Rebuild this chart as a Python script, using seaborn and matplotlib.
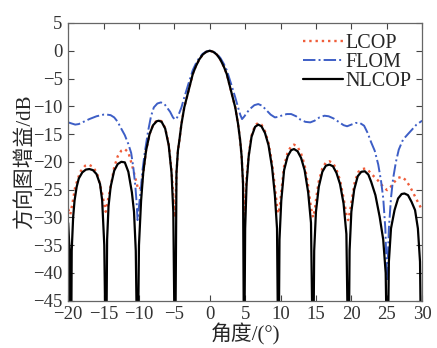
import numpy as np
import pandas as pd
import matplotlib
matplotlib.use("Agg")
import matplotlib.pyplot as plt
import seaborn as sns

# ---------------- data ----------------
# NLCOP (solid black)
nlcop_deg = [-20.0, -19.8, -19.6, -19.5, -19.3, -19.1, -18.8, -18.5, -18.0, -17.5, -17.0,
             -16.5, -16.0, -15.5, -15.2, -14.9, -14.65, -14.5, -14.3, -14.0, -13.5, -13.0,
             -12.5, -12.0, -11.5, -11.0, -10.7, -10.45, -10.2, -10.0, -9.7, -9.4, -9.0,
             -8.5, -8.0, -7.5, -7.2, -6.8, -6.3, -5.8, -5.4, -5.15, -4.9, -4.7, -4.5,
             -4.3, -4.0, -3.6, -3.0, -2.4, -2.0, -1.5, -1.0, -0.5, 0.0, 0.5, 1.0, 1.5,
             2.0, 2.4, 3.0, 3.6, 4.0, 4.3, 4.5, 4.7, 4.85, 5.0, 5.2, 5.5, 5.9, 6.4, 6.85,
             7.3, 7.8, 8.3, 8.8, 9.2, 9.5, 9.7, 9.85, 10.1, 10.5, 11.0, 11.5, 11.9, 12.4,
             12.9, 13.4, 13.9, 14.3, 14.6, 14.75, 15.0, 15.4, 15.9, 16.4, 16.9, 17.4,
             17.9, 18.4, 18.9, 19.3, 19.6, 19.75, 20.0, 20.4, 20.9, 21.4, 21.9, 22.4,
             22.8, 23.4, 24.0, 24.5, 24.85, 25.1, 25.3, 25.6, 26.1, 26.6, 27.1, 27.5,
             28.0, 28.5, 29.0, 29.4, 29.7, 29.9, 30.0]
nlcop_db = [-31, -36, -60, -36, -30, -27, -24.5, -23, -21.9, -21.4, -21.3,
            -21.5, -22.2, -24, -26.9, -35, -60, -34, -28, -24.5, -21.6, -20.4,
            -20.0, -20.1, -21.8, -25.5, -29, -36, -60, -35, -27, -22, -18,
            -15, -13.4, -12.7, -12.6, -12.8, -14, -17, -22, -29, -60, -22, -18,
            -16.2, -13.2, -10.2, -7.2, -4.2, -2.9, -1.6, -0.7, -0.2, 0.0, -0.2, -0.7, -1.6,
            -2.9, -4.2, -7.2, -10.2, -13.2, -16.2, -19, -24, -60, -32, -24, -19, -15.5, -13.7, -13.3,
            -13.6, -14.8, -17, -21, -26, -32, -60, -34, -27, -21.5, -19, -17.9, -17.7, -18.1,
            -19.3, -21.5, -25.5, -31, -60, -36, -29, -24.5, -21.8, -20.7, -20.5, -20.8,
            -22, -24, -27.5, -33, -60, -36, -29, -25, -22.6, -21.8, -21.7, -22.3,
            -23.6, -26, -29.9, -34, -40, -60, -38, -32, -28.7, -26.6, -25.8, -25.7,
            -26, -27.2, -28.7, -32, -38, -60, -50]

# LCOP (red dotted)
lcop_deg = [-20.0, -19.7, -19.4, -19.0, -18.3, -17.6, -17.1, -16.5, -15.9, -15.2, -14.7,
            -14.4, -14.0, -13.5, -13.0, -12.5, -12.0, -11.5, -11.0, -10.6, -10.2, -9.9,
            -9.6, -9.3, -9.0, -8.5, -8.0, -7.5, -7.2, -6.8, -6.3, -5.8, -5.4, -5.1, -4.9,
            -4.7, -4.5, -4.3, -4.0, -3.6, -3.0, -2.4, -2.0, -1.5, -1.0, -0.5, 0.0, 0.5, 1.0,
            1.5, 2.0, 2.4, 3.0, 3.6, 4.0, 4.3, 4.5, 4.7, 4.85, 5.0, 5.2, 5.5, 5.9, 6.4, 6.85,
            7.3, 7.8, 8.3, 8.8, 9.2, 9.5, 9.7, 9.9, 10.1, 10.5, 11.0, 11.5, 11.9, 12.4, 12.9,
            13.4, 13.9, 14.3, 14.6, 14.85, 15.1, 15.4, 15.9, 16.4, 16.9, 17.4, 17.9, 18.4,
            18.9, 19.3, 19.55, 19.8, 20.1, 20.5, 21.0, 21.5, 22.0, 22.5, 23.0, 23.5, 24.0,
            24.5, 25.05, 25.5, 26.1, 26.6, 27.1, 27.7, 28.3, 28.9, 29.5, 30.0]
lcop_db = [-28.5, -29.5, -27.5, -24.5, -21.8, -20.7, -20.5, -20.9, -22.1, -25.7, -29.0,
           -27, -24.5, -21, -19, -18, -17.7, -18.3, -20.5, -22.5, -24.5, -25,
           -24, -21, -18, -15, -13.3, -12.6, -12.5, -12.7, -13.9, -16.8, -21.5, -27, -30,
           -22, -18, -16.2, -13.2, -10.2, -7.2, -4.2, -2.9, -1.6, -0.7, -0.2, 0.0, -0.2, -0.7,
           -1.6, -2.9, -4.2, -7.2, -10.2, -13.2, -16.2, -19, -23.5, -29.5, -27, -23, -18.7, -15.3, -13.4, -13.0,
           -13.3, -14.5, -16.6, -20.3, -24.5, -28, -29.3, -28, -25.5, -20.8, -18.3, -17.2, -16.9, -17.3, -18.5,
           -20.6, -24.3, -28.3, -30, -28.5, -26, -23.5, -21.2, -20.1, -19.9, -20.2, -21.4, -23.3,
           -26.5, -29.5, -30.5, -29, -26.5, -23.5, -21.8, -21.3, -21.2, -21.7, -22.4, -23.0, -23.7,
           -24.5, -25.1, -24.6, -23.6, -22.9, -22.7, -23.3, -24.5, -26, -27.5, -28.7]

# FLOM (blue dash-dot)
flom_deg = [-20.0, -19.5, -19.0, -18.5, -18.0, -17.0, -16.0, -15.0, -14.5, -14.0, -13.5,
            -13.0, -12.6, -12.0, -11.5, -11.1, -10.8, -10.5, -10.3, -10.2, -10.0, -9.7,
            -9.5, -9.2, -8.7, -8.3, -7.9, -7.4, -6.9, -6.4, -6.0, -5.6, -5.2, -4.9, -4.6,
            -4.3, -4.0, -3.6, -3.0, -2.4, -2.0, -1.5, -1.0, -0.5, 0.0, 0.5, 1.0, 1.5, 2.0,
            2.4, 3.0, 3.6, 4.0, 4.3, 4.56, 4.9, 5.2, 5.75, 6.3, 6.85, 7.4, 8.0, 8.6, 9.2,
            9.7, 10.3, 10.9, 11.5, 12.2, 12.8, 13.5, 14.2, 14.8, 15.5, 16.2, 16.8, 17.5,
            18.2, 18.9, 19.4, 20.0, 20.6, 21.2, 21.8, 22.3, 22.8, 23.3, 23.8, 24.2, 24.5,
            24.8, 25.05, 25.3, 25.6, 25.9, 26.3, 26.7, 27.3, 28.0, 28.5, 29.2, 30.0]
flom_db = [-12.9, -13.1, -13.3, -13.2, -12.9, -12.3, -11.8, -11.5, -11.5, -11.6, -12.0,
           -12.8, -13.8, -15.2, -16.8, -18.4, -21, -24.5, -28, -30.5, -28, -24.5,
           -21.5, -18.5, -14.4, -11.8, -10.2, -9.5, -9.3, -9.6, -10.3, -11.0, -12.0, -12.4, -12.0,
           -11.2, -10.2, -8.4, -5.9, -3.5, -2.4, -1.3, -0.55, -0.15, 0.0, -0.15, -0.55, -1.3, -2.4,
           -3.5, -5.9, -8.4, -10.2, -11.5, -12.3, -11.8, -11.2, -10.4, -9.8, -9.6, -9.9, -10.7, -11.5, -12.0,
           -11.9, -11.6, -11.4, -11.4, -11.8, -12.4, -12.8, -12.9, -12.6, -12.0, -11.7, -11.8, -12.2,
           -12.8, -13.4, -13.6, -13.3, -13.0, -13.0, -13.5, -14.8, -16.5, -18.0, -20.5, -23.5, -26.5,
           -32, -41.5, -32, -26.5, -23, -20, -17.8, -16, -15, -14.3, -13.3, -12.6]

x_ticks = list(range(-20, 31, 5))
y_ticks = list(range(-45, 6, 5))

# ---------------- plot ----------------
sns.set_style("ticks")
plt.rcParams["font.family"] = ["Liberation Serif", "Noto Sans CJK SC"]

fig = plt.figure(figsize=(4.37, 3.48), dpi=100)
ax = fig.add_axes([0.156, 0.136, 0.810, 0.798])

df_l = pd.DataFrame({"deg": lcop_deg, "db": lcop_db})
df_f = pd.DataFrame({"deg": flom_deg, "db": flom_db})
df_n = pd.DataFrame({"deg": nlcop_deg, "db": nlcop_db})

sns.lineplot(data=df_l, x="deg", y="db", ax=ax, color="#ef5d3a", linestyle=":",
             linewidth=1.7, label="LCOP", estimator=None)
sns.lineplot(data=df_f, x="deg", y="db", ax=ax, color="#3d5ec6", linestyle="-.",
             linewidth=1.4, label="FLOM", estimator=None)
sns.lineplot(data=df_n, x="deg", y="db", ax=ax, color="black", linestyle="-",
             linewidth=1.6, label="NLCOP", estimator=None)

ax.set_xlim(-20, 30)
ax.set_ylim(-45, 5)
ax.set_xticks(x_ticks)
ax.set_yticks(y_ticks)
ax.tick_params(direction="in", length=4, width=0.8, labelsize=13.5,
               top=True, right=True, colors="#444444", labelcolor="#333333", pad=4)
for sp in ax.spines.values():
    sp.set_color("#666666")
    sp.set_linewidth(0.9)

ax.set_xlabel("角度/(°)", fontsize=15, labelpad=0)
ax.set_ylabel("方向图增益/dB", fontsize=15, labelpad=-1)

leg = ax.legend(loc="upper right", frameon=False, fontsize=14.5, handlelength=2.0,
                handletextpad=0.1, labelspacing=0.0, borderaxespad=0.15)

fig.savefig("out.png", dpi=100)
